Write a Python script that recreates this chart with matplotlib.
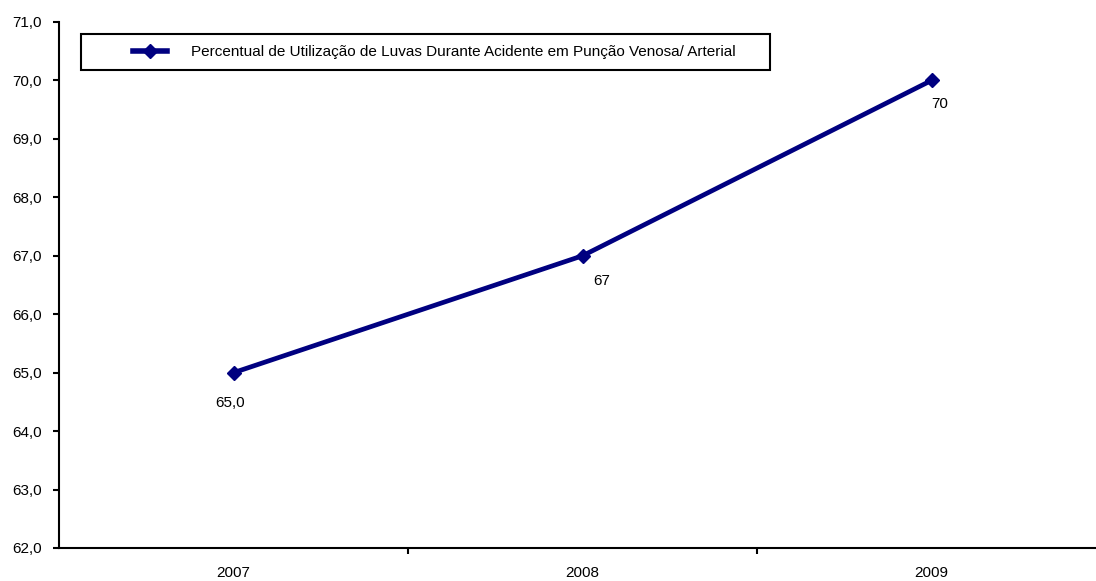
import numpy as np
import matplotlib.pyplot as plt
from matplotlib.patches import Rectangle
from matplotlib.ticker import FuncFormatter, FixedLocator

plt.rcParams['font.family'] = ['Liberation Sans', 'DejaVu Sans']
plt.rcParams['font.size'] = 11

anos = ['2007', '2008', '2009']
percentual = [65.0, 67, 70]
rotulos = ['65,0', '67', '70']
# label offsets below each point, in pixels
desloc = [(-3, -30), (19, -25), (8, -24)]
serie_nome = 'Percentual de Utilização de Luvas Durante Acidente em Punção Venosa/ Arterial'

W, H = 1096, 581
fig = plt.figure(figsize=(W / 100, H / 100), dpi=100)
ax = fig.add_axes([59 / W, 1 - 548 / H, 1047 / W, 526 / H])

x = np.arange(len(anos))
cor = '#000080'
ax.plot(x, percentual, color=cor, linewidth=3.4, marker='D', markersize=7.5,
        markerfacecolor=cor, markeredgecolor=cor, label=serie_nome)

for xi, yi, txt, (dx, dy) in zip(x, percentual, rotulos, desloc):
    ax.annotate(txt, (xi, yi), xytext=(dx, dy), textcoords='offset pixels',
                ha='center', va='center')

ax.set_xlim(-0.5, len(anos) - 0.5)
ax.set_ylim(62, 71)
ax.set_yticks(np.arange(62, 71.01, 1.0))
ax.yaxis.set_major_formatter(FuncFormatter(lambda v, p: f'{v:.1f}'.replace('.', ',')))

# year labels centred in each category, tick marks between categories
ax.set_xticks(x)
ax.set_xticklabels(anos)
ax.tick_params(axis='x', which='major', length=0, pad=13)
ax.xaxis.set_minor_locator(FixedLocator(x[:-1] + 0.5))
ax.tick_params(axis='x', which='minor', length=4, width=1.5, direction='out')
ax.tick_params(axis='y', length=4.5, width=1.5, direction='out', pad=8)

for side in ['top', 'right']:
    ax.spines[side].set_visible(False)
for side in ['left', 'bottom']:
    ax.spines[side].set_linewidth(1.5)

# legend box
fig.patches.append(Rectangle((81 / W, 1 - 70 / H), 689 / W, 36 / H,
                             transform=fig.transFigure, facecolor='white',
                             edgecolor='black', linewidth=1.5))
leg = fig.legend(loc='center left', bbox_to_anchor=(133 / W, 1 - 52 / H),
                 frameon=False, handlelength=2.2, handletextpad=1.6,
                 borderpad=0, borderaxespad=0)
leg.get_lines()[0].set_linewidth(4)

fig.savefig('out.png', dpi=100, facecolor='white')
